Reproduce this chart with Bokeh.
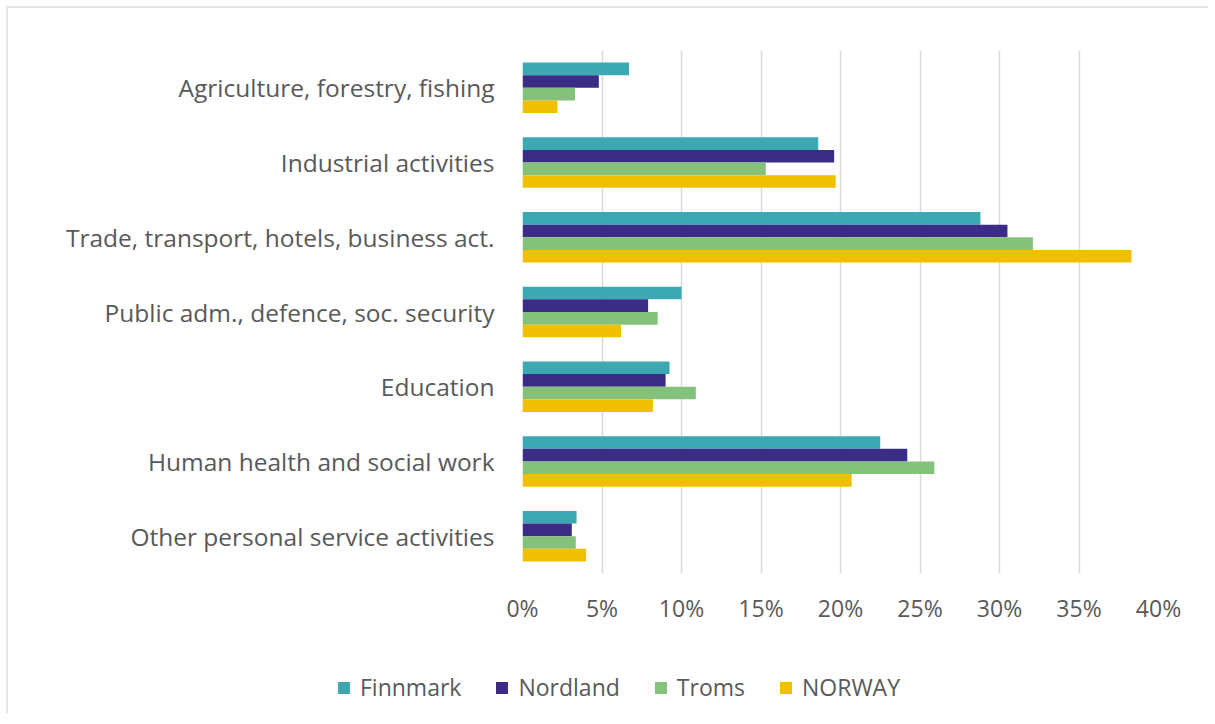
from bokeh.plotting import figure
from bokeh.layouts import column
from bokeh.models import (ColumnDataSource, FactorRange, Range1d, FixedTicker,
                          PrintfTickFormatter, Legend, LegendItem)
from bokeh.transform import dodge
from bokeh.embed import file_html
from bokeh.resources import INLINE

categories = [
    "Agriculture, forestry, fishing",
    "Industrial activities",
    "Trade, transport, hotels, business act.",
    "Public adm., defence, soc. security",
    "Education",
    "Human health and social work",
    "Other personal service activities",
]
series_names = ["Finnmark", "Nordland", "Troms", "NORWAY"]
finnmark = [6.7, 18.6, 28.8, 10.0, 9.25, 22.5, 3.4]
nordland = [4.8, 19.6, 30.5, 7.9, 9.0, 24.2, 3.1]
troms = [3.3, 15.3, 32.1, 8.5, 10.9, 25.9, 3.35]
norway = [2.2, 19.7, 38.3, 6.2, 8.2, 20.7, 4.0]
x_ticks = [0, 5, 10, 15, 20, 25, 30, 35, 40]

colors = ["#3CA8B1", "#3B2C86", "#84C17A", "#F0C000"]
FONT = "Open Sans"
TXT = "#595959"
W = 1200

source = ColumnDataSource(dict(cat=categories, Finnmark=finnmark, Nordland=nordland,
                               Troms=troms, NORWAY=norway))

p = figure(width=W, height=625, output_backend="svg", toolbar_location=None,
           y_range=FactorRange(factors=list(reversed(categories))),
           x_range=Range1d(0, 40),
           min_border_left=514, min_border_right=W - 514 - 636, min_border_top=42,
           min_border_bottom=60)

h = 0.169
offsets = [1.5 * h, 0.5 * h, -0.5 * h, -1.5 * h]
renderers = []
for name, col, off in zip(series_names, colors, offsets):
    r = p.hbar(y=dodge("cat", off, range=p.y_range), right=name, left=0, height=h,
               source=source, fill_color=col, line_color=None)
    renderers.append(r)

p.outline_line_color = None
p.ygrid.grid_line_color = None
p.xgrid.grid_line_color = "#d9d9d9"
p.xgrid.grid_line_width = 1.5
p.xaxis.ticker = FixedTicker(ticks=x_ticks)
p.xaxis.formatter = PrintfTickFormatter(format="%d%%")
for ax in (p.xaxis[0], p.yaxis[0]):
    ax.axis_line_color = None
    ax.major_tick_line_color = None
    ax.minor_tick_line_color = None
    ax.major_label_text_font = FONT
    ax.major_label_text_color = TXT
p.yaxis.major_label_text_font_size = "24.5px"
p.xaxis.major_label_text_font_size = "23px"
p.xaxis.major_label_standoff = 12
p.yaxis.major_label_standoff = 22

# legend in its own strip below the chart
lf = figure(width=W, height=80, output_backend="svg", toolbar_location=None,
            x_range=Range1d(0, 1), y_range=Range1d(0, 1),
            min_border_left=20, min_border_right=0, min_border_top=28, min_border_bottom=0)
if "frame_align" in lf.properties():
    lf.frame_align = False
lf.axis.visible = False
lf.grid.visible = False
lf.outline_line_color = None
leg_r = [lf.hbar(y="cat", right=n, left=0, height=0.5, source=source,
                 fill_color=c, line_color=None, visible=False)
         for n, c in zip(series_names, colors)]
legend = Legend(items=[LegendItem(label=n, renderers=[r]) for n, r in zip(series_names, leg_r)],
                orientation="horizontal", location="center",
                glyph_width=15, glyph_height=15, label_standoff=9, spacing=33,
                padding=0, margin=0, border_line_color=None, background_fill_alpha=0,
                inactive_fill_alpha=0, click_policy="none",
                label_text_font=FONT, label_text_color=TXT, label_text_font_size="23px")
lf.add_layout(legend, "center")

layout = column(p, lf, spacing=0, margin=(6, 0, 0, 6),
                styles={"border-left": "2px solid #e6e6e6", "border-top": "2px solid #e6e6e6"})

open("out.html", "w").write(file_html(layout, INLINE))
